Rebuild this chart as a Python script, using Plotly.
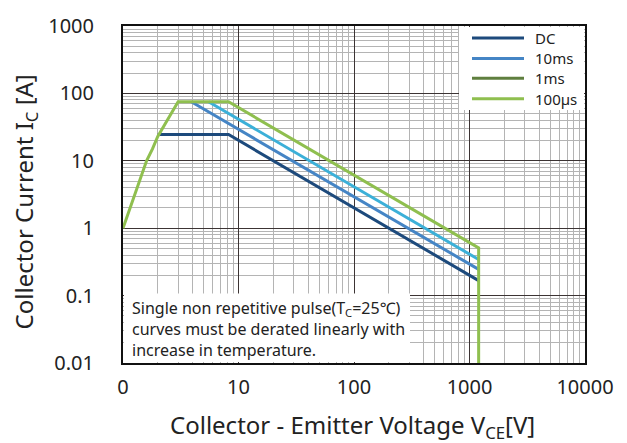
import plotly.graph_objects as go

# Safe operating area curves (collector-emitter voltage [V], collector current [A])
dc_v = [2.0, 8.2, 1200]
dc_i = [24.5, 24.5, 0.167]

ms10_v = [3.9, 1200]
ms10_i = [75, 0.245]

ms1_v = [5.5, 1200]
ms1_i = [75, 0.343]

us100_v = [1.0, 1.6, 1.8, 2.0, 3.0, 8.2, 1200, 1200]
us100_i = [1.0, 10.0, 15.0, 23.0, 75.0, 75.0, 0.51, 0.01]

legend_labels = ["DC", "10ms", "1ms", "100µs"]
legend_colors = ["#1d4a7c", "#4585c5", "#5f7f3f", "#8fbf4f"]

x_tickvals = [1, 10, 100, 1000, 10000]
x_ticktext = ["0", "10", "100", "1000", "10000"]
y_tickvals = [0.01, 0.1, 1, 10, 100, 1000]
y_ticktext = ["0.01", "0.1", "1", "10", "100", "1000"]

note_lines = [
    "Single non repetitive pulse(T<sub>C</sub>=25℃)",
    "curves must be derated linearly with",
    "increase in temperature.",
]

FONT = "Noto Sans, Open Sans, Noto Sans CJK JP, sans-serif"
W, H = 627, 443
L, R, T, B = 123, 42, 23, 80
PW, PH = W - L - R, H - T - B


def px(x):
    return (x - L) / PW


def py(y):
    return 1 - (y - T) / PH


def minor_vals(lo, hi):
    vals = []
    d = lo
    while d < hi:
        vals += [k * d for k in range(2, 10)]
        d *= 10
    return vals


fig = go.Figure()

curves = [
    (dc_v, dc_i, "#1d4a7c"),
    (ms10_v, ms10_i, "#4585c5"),
    (ms1_v, ms1_i, "#3cb0d8"),
    (us100_v, us100_i, "#8fbf4f"),
]
for v, i, c in curves:
    fig.add_trace(go.Scatter(x=v, y=i, mode="lines", showlegend=False,
                             line=dict(color=c, width=3)))

shapes = []
annotations = []

# legend panel (inset by one pixel so the frame stays visible)
shapes.append(dict(type="rect", xref="paper", yref="paper", layer="above",
                   x0=px(459), x1=px(W - R - 1), y0=py(107.7), y1=py(T + 1),
                   fillcolor="white", line=dict(width=0)))
row_y = [35, 55.7, 75.7, 96.3]
for lab, col, ry in zip(legend_labels, legend_colors, row_y):
    shapes.append(dict(type="line", xref="paper", yref="paper", layer="above",
                       x0=px(472), x1=px(524), y0=py(ry), y1=py(ry),
                       line=dict(color=col, width=3)))
    annotations.append(dict(text=lab, xref="paper", yref="paper", x=px(533),
                            y=py(ry), xanchor="left", yanchor="middle",
                            showarrow=False, font=dict(size=15, color="#222")))

# note panel
shapes.append(dict(type="rect", xref="paper", yref="paper", layer="above",
                   x0=px(L + 1), x1=px(410), y0=py(H - B - 1), y1=py(293),
                   fillcolor="white", line=dict(width=0)))
for line, ly in zip(note_lines, [307.7, 329, 350]):
    annotations.append(dict(text=line, xref="paper", yref="paper", x=px(130),
                            y=py(ly), xanchor="left", yanchor="middle",
                            showarrow=False, font=dict(size=16, color="#222")))

# axis titles
annotations.append(dict(text="Collector - Emitter Voltage V<sub>CE</sub>[V]",
                        xref="paper", yref="paper", x=px(352), y=py(427),
                        xanchor="center", yanchor="middle", showarrow=False,
                        font=dict(size=24, color="#222")))
annotations.append(dict(text="Collector Current I<sub>C</sub> [A]",
                        xref="paper", yref="paper", x=px(25), y=py(201),
                        xanchor="center", yanchor="middle", textangle=-90,
                        showarrow=False, font=dict(size=24, color="#222")))

axis_common = dict(
    showline=True, linecolor="#111", linewidth=2, mirror=True,
    gridcolor="#3c3434", gridwidth=1.3, ticks="", zeroline=False,
    tickfont=dict(size=20, color="#222"),
)

fig.update_xaxes(type="log", range=[0, 4], tickmode="array",
                 tickvals=x_tickvals, ticktext=x_ticktext,
                 ticklabelstandoff=5,
                 minor=dict(tickmode="array", tickvals=minor_vals(1, 10000),
                            showgrid=True, gridcolor="#b4b4b4", gridwidth=1,
                            ticks=""),
                 **axis_common)
fig.update_yaxes(type="log", range=[-2, 3], tickmode="array",
                 tickvals=y_tickvals, ticktext=y_ticktext,
                 ticklabelstandoff=23,
                 minor=dict(tickmode="array", tickvals=minor_vals(0.01, 1000),
                            showgrid=True, gridcolor="#b4b4b4", gridwidth=1,
                            ticks=""),
                 **axis_common)

fig.update_layout(
    width=W, height=H,
    margin=dict(l=L, r=R, t=T, b=B),
    paper_bgcolor="white", plot_bgcolor="white",
    font=dict(family=FONT, color="#222"),
    shapes=shapes, annotations=annotations,
    showlegend=False,
)

fig.write_html("out.html")
